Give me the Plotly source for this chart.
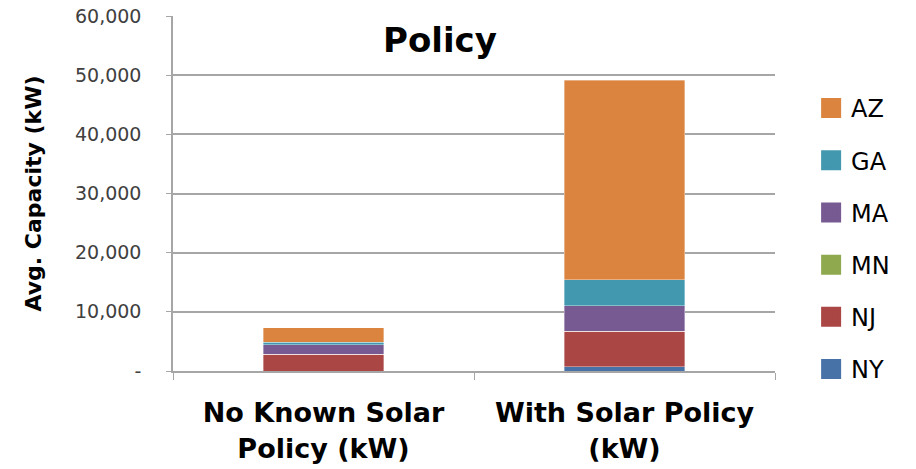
import plotly.graph_objects as go

# Policy groups on the x axis (two-line labels)
categories = ["No Known Solar<br>Policy (kW)", "With Solar Policy<br>(kW)"]

# Average capacity (kW) per state, stacked bottom to top
states = ["NY", "NJ", "MN", "MA", "GA", "AZ"]
ny = [0, 700]
nj = [2800, 6000]
mn = [0, 0]
ma = [1640, 4350]
ga = [390, 4400]
az = [2490, 33680]
values = {"NY": ny, "NJ": nj, "MN": mn, "MA": ma, "GA": ga, "AZ": az}

colors = {
    "NY": "#4672A8",
    "NJ": "#AA4644",
    "MN": "#8FAA4E",
    "MA": "#775A92",
    "GA": "#4298AF",
    "AZ": "#DA843F",
}

y_tick_vals = [0, 10000, 20000, 30000, 40000, 50000, 60000]
y_tick_text = ["-", "10,000", "20,000", "30,000", "40,000", "50,000", "60,000"]

WIDE = "DejaVu Sans"

# plot area in pixels
L, R, T, B = 173, 141, 16, 98
W, H = 916, 469
plot_w = W - L - R
plot_h = H - T - B

fig = go.Figure()

# stacked bars (stack order follows trace order: NY at the bottom)
for s in states:
    fig.add_trace(go.Bar(
        x=categories,
        y=values[s],
        name=s,
        showlegend=False,
        marker=dict(color=colors[s], line=dict(color="rgba(255,255,255,0.6)", width=0.6)),
    ))

# legend entries with large square swatches, AZ listed first
for s in reversed(states):
    fig.add_trace(go.Scatter(
        x=[None],
        y=[None],
        mode="markers",
        name=s,
        legendgroup=s,
        marker=dict(symbol="square", size=16, color=colors[s],
                    line=dict(color=colors[s], width=4)),
    ))

fig.update_layout(
    barmode="stack",
    bargap=0.6,
    width=W,
    height=H,
    margin=dict(l=L, r=R, t=T, b=B, autoexpand=False),
    paper_bgcolor="white",
    plot_bgcolor="white",
    font=dict(family=WIDE, color="#000000"),
    showlegend=True,
    legend=dict(
        traceorder="grouped",
        x=1.06,
        xanchor="left",
        y=0.803,
        yanchor="top",
        font=dict(family=WIDE, size=24, color="#000000"),
        tracegroupgap=18,
        bgcolor="rgba(0,0,0,0)",
    ),
    annotations=[
        dict(
            text="<b>Policy</b>",
            x=(440 - L) / plot_w, xref="paper",
            y=(H - B - 40) / plot_h, yref="paper",
            xanchor="center", yanchor="middle",
            showarrow=False,
            font=dict(family=WIDE, size=34, color="#000000"),
        )
    ],
)

fig.update_yaxes(
    range=[0, 60000],
    automargin=False,
    tickvals=y_tick_vals,
    ticktext=y_tick_text,
    tickfont=dict(family=WIDE, size=19, color="#404040"),
    showgrid=True,
    gridcolor="#A6A6A6",
    gridwidth=1.5,
    showline=True,
    linecolor="#A6A6A6",
    linewidth=1.5,
    ticks="outside",
    ticklen=5,
    tickcolor="#A6A6A6",
    ticklabelstandoff=21,
    zeroline=False,
    title=dict(
        text="<b>Avg. Capacity (kW)</b>",
        font=dict(family=WIDE, size=22, color="#000000"),
        standoff=27,
    ),
)

fig.update_xaxes(
    automargin=False,
    showline=True,
    linecolor="#A6A6A6",
    linewidth=2,
    ticks="outside",
    tickson="boundaries",
    ticklen=7,
    tickcolor="#A6A6A6",
    tickfont=dict(family=WIDE, size=27, color="#000000"),
    tickprefix="<b>",
    ticksuffix="</b>",
    ticklabelstandoff=17,
    showgrid=False,
)

fig.write_html("out.html")
